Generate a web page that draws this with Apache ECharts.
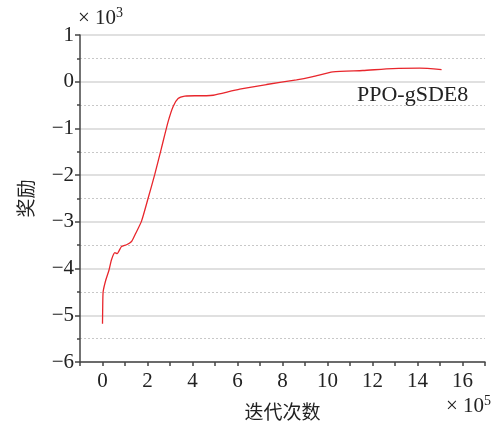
<!DOCTYPE html>
<html><head><meta charset="utf-8">
<script src="https://cdn.jsdelivr.net/npm/echarts@6/dist/echarts.min.js"></script>
<style>html,body{margin:0;padding:0;background:#fff}#c{width:496px;height:430px}</style>
</head><body><div id="c"></div>
<script>
var seriesName = 'PPO-gSDE8';
var iterX = [0, 0.01, 0.03, 0.15, 0.29, 0.40, 0.55, 0.65, 0.84, 1.07, 1.29, 1.44, 1.73, 2.03, 2.32, 2.62, 2.92, 3.14, 3.36, 3.66, 4.10, 4.62, 4.92, 6.10, 7.29, 8.62, 9.35, 10.24, 11.57, 12.90, 14.10, 15.07];
var rewardY = [-5.18, -4.80, -4.49, -4.24, -4.03, -3.81, -3.66, -3.68, -3.53, -3.49, -3.42, -3.28, -2.99, -2.49, -1.99, -1.42, -0.85, -0.53, -0.36, -0.31, -0.30, -0.30, -0.29, -0.16, -0.06, 0.04, 0.11, 0.21, 0.24, 0.28, 0.29, 0.26];
var xAxisName = '迭代次数';
var yAxisName = '奖励';

var serif = '"Liberation Serif","DejaVu Serif",serif';
var cjk = '"Noto Sans CJK SC",sans-serif';
var data = iterX.map(function (x, i) { return [x, rewardY[i]]; });
function fmt(v) { return v < 0 ? '\u2212' + Math.abs(v) : String(v); }
var sup = { a: { fontFamily: serif, fontSize: 21, fill: '#222' }, b: { fontFamily: serif, fontSize: 14, fill: '#222', verticalAlign: 'top', padding: [0, 0, 10, 0] } };

var chart = echarts.init(document.getElementById('c'));
chart.setOption({
  animation: false,
  backgroundColor: '#fff',
  grid: { left: 80, right: 11, top: 35, bottom: 68, containLabel: false },
  graphic: [
    { type: 'text', left: 78, top: 6, style: { rich: sup, text: '{a|× 10}{b|3}' } },
    { type: 'text', right: 5, top: 394, style: { rich: sup, text: '{a|× 10}{b|5}' } }
  ],
  legend: {
    left: 352, top: 84, padding: 0, icon: 'none', itemWidth: 0, itemGap: 0,
    textStyle: { fontFamily: serif, fontSize: 22, color: '#222', padding: 0 },
    data: [seriesName]
  },
  xAxis: {
    type: 'value', min: -1, max: 17, interval: 1,
    name: xAxisName, nameLocation: 'middle', nameGap: 40,
    nameTextStyle: { fontFamily: cjk, fontSize: 19, color: '#222' },
    axisLine: { show: true, onZero: false, lineStyle: { color: '#444', width: 1.5 } },
    axisTick: { show: true, length: 4, lineStyle: { color: '#444', width: 1.5 } },
    axisLabel: { fontFamily: serif, fontSize: 21, color: '#222', margin: 9,
      formatter: function (v) { return (v % 2 === 0) ? fmt(v) : ''; } },
    splitLine: { show: false }
  },
  yAxis: {
    type: 'value', min: -6, max: 1, interval: 1,
    name: yAxisName, nameLocation: 'middle', nameGap: 45, nameRotate: 90,
    nameTextStyle: { fontFamily: cjk, fontSize: 19, color: '#222' },
    axisLine: { show: true, onZero: false, lineStyle: { color: '#444', width: 1.5 } },
    axisTick: { show: true, length: 5, lineStyle: { color: '#444', width: 1.5 } },
    minorTick: { show: true, splitNumber: 2, length: 3, lineStyle: { color: '#444', width: 1.5 } },
    axisLabel: { fontFamily: serif, fontSize: 21, color: '#222', margin: 6, formatter: fmt },
    splitLine: { show: true, lineStyle: { color: '#d6d6d6', width: 1.5 } },
    minorSplitLine: { show: true, lineStyle: { color: '#c8c8c8', width: 1, type: [2, 2] } }
  },
  series: [{
    name: seriesName, type: 'line', data: data, showSymbol: false, smooth: 0.2,
    lineStyle: { color: '#e8262c', width: 1.3 }, itemStyle: { color: '#e8262c' }
  }]
});
</script></body></html>
